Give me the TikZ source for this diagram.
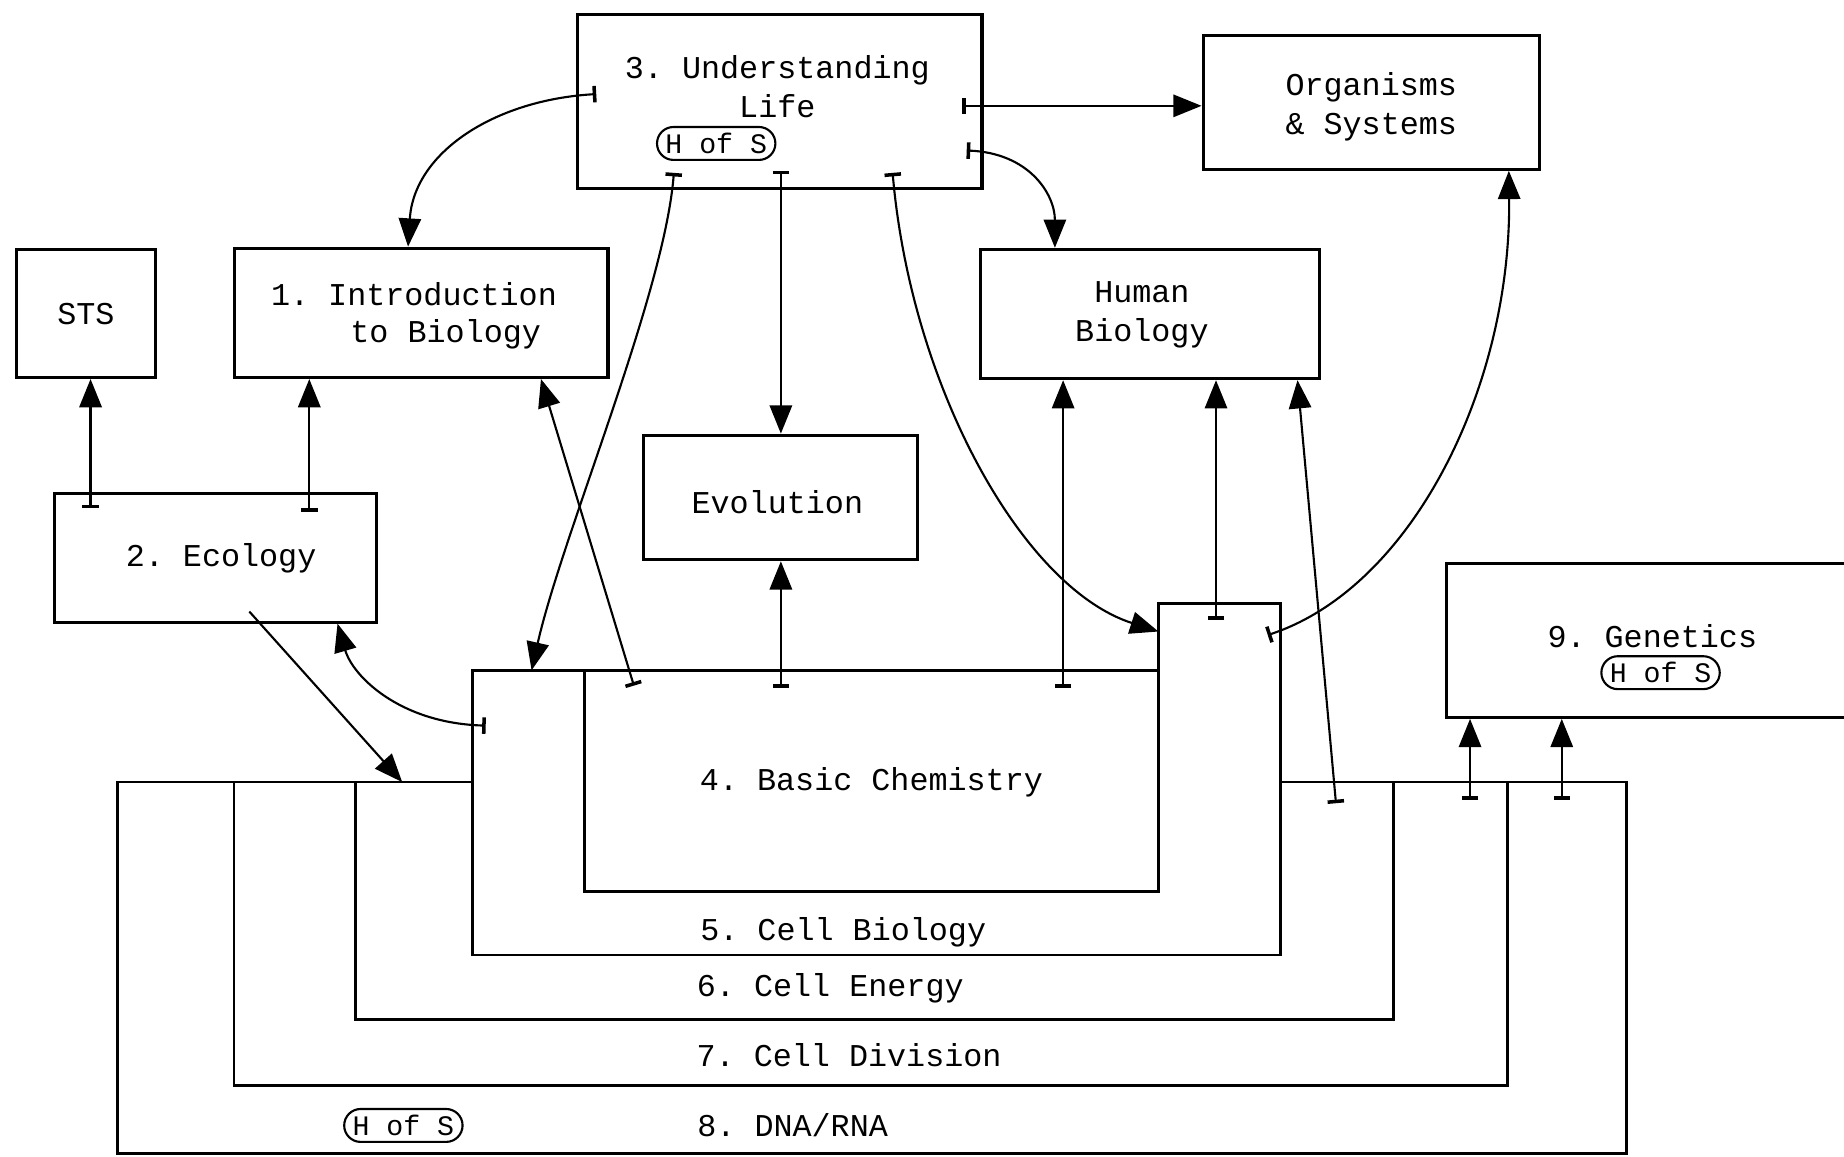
\documentclass[tikz,border=0pt]{standalone}
\usepackage{fontspec}
\newfontfamily\mono{Liberation Mono}
\usetikzlibrary{arrows.meta,shapes.misc,calc}
\frenchspacing
\begin{document}
\begin{tikzpicture}[x=0.5pt,y=-0.5pt,
  box/.style={draw,line width=1.3pt,inner sep=0pt},
  frame/.style={line width=1.2pt,line join=miter},
  lbl/.style={font=\mono\frenchspacing\fontsize{13.5}{16.5}\selectfont,align=center,inner sep=0pt},
  hos/.style={draw,rounded rectangle,line width=0.9pt,inner xsep=2pt,inner ysep=1pt,font=\mono\fontsize{12}{14}\selectfont,minimum height=14pt},
  conn/.style={line width=0.9pt,{Bar[width=7pt,line width=1.5pt]}-{Triangle[length=12pt,width=9.5pt]}},
  plain/.style={line width=0.9pt,-{Triangle[length=12pt,width=9.5pt]}}]
\fill[white] (0,0) rectangle (1568,983);
\useasboundingbox (0,0) rectangle (1568,983);
\clip (0,0) rectangle (1568,983);

% boxes
\node[box,minimum width=172pt,minimum height=74pt] (b3) at (663,86) {};
\node[box,minimum width=143pt,minimum height=57pt] (org) at (1166,87) {};
\node[box,minimum width=59pt,minimum height=54.5pt] (sts) at (73,266.5) {};
\node[box,minimum width=159pt,minimum height=55pt] (intro) at (358,266) {};
\node[box,minimum width=144pt,minimum height=55pt] (human) at (978,267) {};
\node[box,minimum width=116.5pt,minimum height=53pt] (evo) at (663.5,423) {};
\node[box,minimum width=137pt,minimum height=54.5pt] (eco) at (183,474.5) {};
\node[box,minimum width=185pt,minimum height=65.5pt] (gen) at (1415,544.5) {};
\node[box,minimum width=244pt,minimum height=94pt] (b4) at (741,664) {};

% nested frames
\draw[frame] (402,570) -- (985,570) -- (985,513) -- (1089,513) -- (1089,812) -- (402,812) -- cycle;
\draw[frame] (402,665) -- (302,665) -- (302,867) -- (1185,867) -- (1185,665) -- (1089,665);
\draw[frame] (302,665) -- (199,665) -- (199,923) -- (1282,923) -- (1282,665) -- (1185,665);
\draw[frame] (199,665) -- (100,665) -- (100,981) -- (1383,981) -- (1383,665) -- (1282,665);
\coordinate (f5nw) at (402,570);
\coordinate (f5step) at (985,513);
\coordinate (f6nw) at (302,665);

% labels
\node[lbl] (t3) at (661,74) {3. Understanding\\Life};
\node[hos] (h3) at (609,122) {H of S};
\node[lbl] (torg) at (1166,91) {Organisms\\\& Systems};
\node[lbl] (tsts) at (73,267) {STS};
\node[lbl] (tintroa) at (352,250) {1. Introduction};
\node[lbl] (tintrob) at (379,284) {to Biology};
\node[lbl] (thum) at (971,268) {Human\\Biology};
\node[lbl] (tevo) at (661,427) {Evolution};
\node[lbl] (teco) at (188,475) {2. Ecology};
\node[lbl] (tgen) at (1405,541) {9. Genetics};
\node[hos] (hgen) at (1412,572) {H of S};
\node[lbl] (t4) at (741,665) {4. Basic Chemistry};
\node[lbl] (t5) at (717,793) {5. Cell Biology};
\node[lbl] (t6) at (706,840) {6. Cell Energy};
\node[lbl] (t7) at (722,897) {7. Cell Division};
\node[lbl] (t8) at (674,957) {8. DNA/RNA};
\node[hos] (h8) at (343,957) {H of S};

% connector start points
\coordinate (s1) at (507,80);
\coordinate (s2) at (818,90);
\coordinate (s3) at (822,128);
\coordinate (s4) at (573,147);
\coordinate (s5) at (664,145);
\coordinate (s6) at (759,147);
\coordinate (s7) at (539,583);
\coordinate (s8) at (664,585);
\coordinate (s9) at (904,585);
\coordinate (s10) at (1034,527);
\coordinate (s11) at (1078,540);
\coordinate (s12) at (1136,683);
\coordinate (s13) at (1250,680);
\coordinate (s14) at (1328,680);
\coordinate (s15) at (77,432);
\coordinate (s16) at (263,435);
\coordinate (s17) at (413,617);
\coordinate (s18) at (212,520);

% connectors
\draw[conn] (s1) .. controls (420,85) and (352,130) .. ([xshift=-5.5pt]intro.north);
\draw[conn] (s2) -- (s2 -| org.west);
\draw[conn] (s3) .. controls (875,130) and (897,165) .. ([xshift=-40.5pt]human.north);
\draw[conn] (s4) .. controls (565,250) and (478,455) .. ([xshift=25pt]f5nw);
\draw[conn] (s5) -- (s5 |- evo.north);
\draw[conn] (s6) .. controls (775,330) and (870,500) .. ([yshift=-12pt]f5step);
\draw[conn] (s7) -- ([xshift=51pt]intro.south);
\draw[conn] (s8) -- (s8 |- evo.south);
\draw[conn] (s9) -- (s9 |- human.south);
\draw[conn] (s10) -- (s10 |- human.south);
\draw[conn] (s11) .. controls (1200,500) and (1285,330) .. ([xshift=58.5pt]org.south);
\draw[conn] (s12) -- ([xshift=-10pt]human.south east);
\draw[conn] (s13) -- (s13 |- gen.south);
\draw[conn] (s14) -- (s14 |- gen.south);
\draw[conn] (s15) -- (s15 |- sts.south);
\draw[conn] (s16) -- (s16 |- intro.south);
\draw[conn] (s17) .. controls (340,615) and (300,575) .. ([xshift=52pt]eco.south);
\draw[plain] (s18) -- ([xshift=20pt]f6nw);
\end{tikzpicture}
\end{document}
